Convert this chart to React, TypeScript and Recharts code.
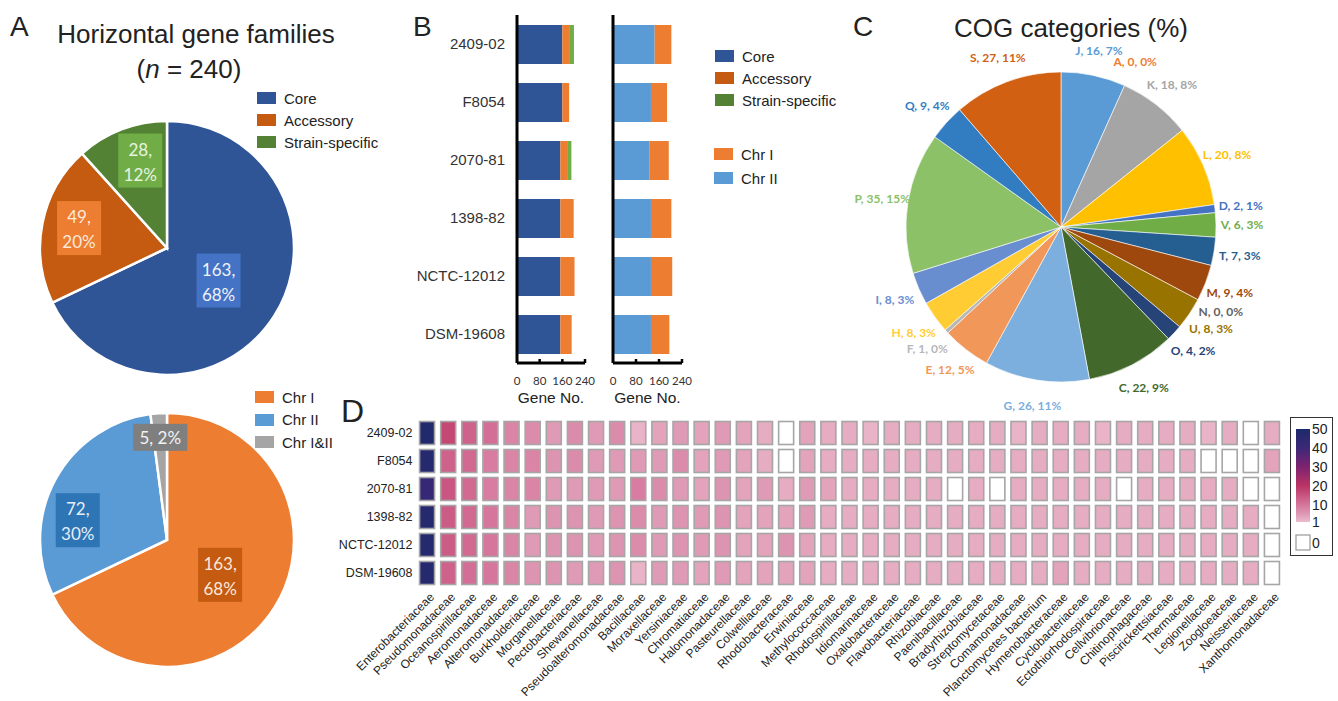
import React from 'react';
import { PieChart, Pie, Cell, BarChart, Bar, XAxis, YAxis, ScatterChart, Scatter } from 'recharts';

const RAD = Math.PI / 180;
const SANS = '"Liberation Sans", Arial, sans-serif';
const SOFT = 'Lato, "Open Sans", sans-serif';

// A - horizontal gene families
const familyTypes = ['Core', 'Accessory', 'Strain-specific'];
const familyCounts = [163, 49, 28];
const familyShares = ['68%', '20%', '12%'];
const chromosomes = ['Chr I', 'Chr II', 'Chr I&II'];
const chromosomeCounts = [163, 72, 5];
const chromosomeShares = ['68%', '30%', '2%'];

// B - gene counts per strain
const strains = ['2409-02', 'F8054', '2070-81', '1398-82', 'NCTC-12012', 'DSM-19608'];
const coreGenes = [160, 160, 153, 153, 153, 153];
const accessoryGenes = [24, 24, 24, 47, 50, 40];
const specificGenes = [17, 0, 15, 0, 0, 0];
const chrIIGenes = [145, 132, 126, 132, 132, 132];
const chrIGenes = [58, 56, 68, 71, 74, 64];
const geneTicks = [0, 80, 160, 240];

// C - COG categories
const cogLetters = ['J', 'A', 'K', 'L', 'D', 'V', 'T', 'M', 'N', 'U', 'O', 'C', 'G', 'E', 'F', 'H', 'I', 'P', 'Q', 'S'];
const cogCounts = [16, 0, 18, 20, 2, 6, 7, 9, 0, 8, 4, 22, 26, 12, 1, 8, 8, 35, 9, 27];
const cogShares = ['7%', '0%', '8%', '8%', '1%', '3%', '3%', '4%', '0%', '3%', '2%', '9%', '11%', '5%', '0%', '3%', '3%', '15%', '4%', '11%'];
const cogColors = ['#5b9bd5', '#ed7d31', '#a5a5a5', '#ffc000', '#4472c4', '#70ad47', '#255e91', '#9e480e', '#636363', '#997300',
  '#264478', '#43682b', '#7cafdd', '#f1975a', '#b7b7b7', '#ffcd33', '#698ed0', '#8cc168', '#327dc2', '#d26012'];

// D - best-hit families per strain
const families = ['Enterobacteriaceae', 'Pseudomonadaceae', 'Oceanospirillaceae', 'Aeromonadaceae', 'Alteromonadaceae',
  'Burkholderiaceae', 'Morganellaceae', 'Pectobacteriaceae', 'Shewanellaceae', 'Pseudoalteromonadaceae', 'Bacillaceae',
  'Moraxellaceae', 'Yersiniaceae', 'Chromatiaceae', 'Halomonadaceae', 'Pasteurellaceae', 'Colwelliaceae', 'Rhodobacteraceae',
  'Erwiniaceae', 'Methylococcaceae', 'Rhodospirillaceae', 'Idiomarinaceae', 'Oxalobacteraceae', 'Flavobacteriaceae',
  'Rhizobiaceae', 'Paenibacillaceae', 'Bradyrhizobiaceae', 'Streptomycetaceae', 'Comamonadaceae', 'Planctomycetes bacterium',
  'Hymenobacteraceae', 'Cyclobacteriaceae', 'Ectothiorhodospiraceae', 'Cellvibrionaceae', 'Chitinophagaceae',
  'Piscirickettsiaceae', 'Thermaceae', 'Legionellaceae', 'Zoogloeaceae', 'Neisseriaceae', 'Xanthomonadaceae'];
const hits2409 = [48, 17, 13, 11, 8, 7, 5, 7, 5, 7, 2, 4, 5, 4, 5, 4, 3, 0, 4, 3, 3, 2, 3, 3, 3, 3, 3, 3, 2, 3, 3, 3, 2, 3, 3, 3, 3, 2, 3, 0, 3];
const hitsF8054 = [47, 13, 12, 9, 8, 8, 6, 7, 5, 5, 5, 5, 7, 4, 5, 4, 3, 0, 4, 3, 3, 3, 3, 3, 3, 3, 3, 3, 3, 3, 3, 3, 3, 3, 3, 3, 3, 0, 0, 0, 4];
const hits2070 = [42, 15, 12, 9, 8, 8, 5, 5, 5, 5, 9, 7, 5, 4, 6, 4, 5, 3, 5, 4, 3, 3, 3, 3, 3, 0, 3, 0, 3, 3, 3, 3, 3, 0, 3, 3, 3, 3, 3, 0, 0];
const hits1398 = [47, 14, 12, 10, 8, 5, 6, 6, 5, 6, 7, 5, 6, 5, 6, 4, 4, 4, 5, 3, 3, 3, 3, 3, 3, 3, 3, 3, 3, 3, 3, 3, 3, 3, 3, 3, 3, 3, 3, 3, 0];
const hitsNCTC = [47, 14, 12, 10, 8, 5, 6, 6, 5, 6, 7, 5, 6, 5, 6, 4, 4, 6, 4, 3, 3, 3, 3, 3, 3, 3, 3, 3, 3, 3, 3, 3, 3, 3, 3, 3, 3, 3, 3, 3, 0];
const hitsDSM = [47, 13, 11, 10, 8, 6, 6, 5, 5, 6, 2, 5, 5, 4, 5, 4, 4, 4, 4, 3, 3, 3, 3, 3, 3, 3, 3, 3, 3, 3, 4, 3, 3, 3, 3, 3, 3, 3, 3, 3, 0];
const heatRows = [hits2409, hitsF8054, hits2070, hits1398, hitsNCTC, hitsDSM];
const heatTicks = [50, 40, 30, 20, 10, 1];

const heatStops: [number, number[]][] = [
  [1, [236, 188, 205]], [5, [223, 155, 181]], [10, [214, 118, 156]], [20, [187, 52, 99]],
  [30, [126, 35, 112]], [40, [61, 40, 120]], [50, [27, 42, 106]],
];

function heatColor(v: number) {
  for (let i = 1; i < heatStops.length; i++) {
    const [v1, c1] = heatStops[i];
    const [v0, c0] = heatStops[i - 1];
    if (v <= v1) {
      const t = Math.max(0, (v - v0) / (v1 - v0));
      const c = c0.map((ch, k) => Math.round(ch + (c1[k] - ch) * t));
      return `rgb(${c.join(',')})`;
    }
  }
  return 'rgb(27,42,106)';
}

const Txt = ({ x, y, size, w, align, weight, children }: any) => (
  <div style={{ position: 'absolute', left: x, top: y, width: w, textAlign: align || 'left', fontSize: size,
    fontWeight: weight || 400, lineHeight: 1, whiteSpace: 'nowrap' }}>{children}</div>
);

const SwatchList = ({ labels, colors, x, y, step }: any) => (
  <div style={{ position: 'absolute', left: x, top: y }}>
    {labels.map((l: string, i: number) => (
      <div key={l} style={{ position: 'absolute', left: 0, top: i * step, height: 14, display: 'flex', alignItems: 'center', whiteSpace: 'nowrap' }}>
        <span style={{ display: 'inline-block', width: 19, height: 12, background: colors[i], marginRight: 8 }} />
        <span style={{ fontSize: 15, lineHeight: 1, color: '#222' }}>{l}</span>
      </div>
    ))}
  </div>
);

// boxed "count, share" labels placed like Excel's best fit
function boxLabel(counts: number[], shares: string[], boxes: string[], inks: string[], spots: number[][]) {
  return (p: any) => {
    const { cx, cy, midAngle, outerRadius, index } = p;
    const [rf, shift] = spots[index];
    const a = (midAngle + shift) * RAD;
    const x = cx + outerRadius * rf * Math.cos(a);
    const y = cy - outerRadius * rf * Math.sin(a);
    const single = counts[index] < 10;
    const w = single ? 54 : 44;
    const h = single ? 27 : 54;
    return (
      <g key={`box-${index}`}>
        <rect x={x - w / 2} y={y - h / 2} width={w} height={h} fill={boxes[index]} />
        {single ? (
          <text x={x} y={y} textAnchor="middle" dominantBaseline="central" fontSize={17} fontFamily={SOFT} fill={inks[index]}>
            {`${counts[index]}, ${shares[index]}`}
          </text>
        ) : (
          <text textAnchor="middle" dominantBaseline="central" fontSize={17} fontFamily={SOFT} fill={inks[index]}>
            <tspan x={x} y={y - 12}>{`${counts[index]},`}</tspan>
            <tspan x={x} y={y + 13}>{shares[index]}</tspan>
          </text>
        )}
      </g>
    );
  };
}

function PanelA() {
  const famData = familyTypes.map((t, i) => ({ name: t, value: familyCounts[i] }));
  const chrData = chromosomes.map((t, i) => ({ name: t, value: chromosomeCounts[i] }));
  const famFill = ['#2f5597', '#c55a11', '#548235'];
  const chrFill = ['#ed7d31', '#5b9bd5', '#a5a5a5'];
  return (
    <>
      <Txt x={10} y={13} size={28}>A</Txt>
      <Txt x={46} y={21} w={300} align="center" size={26}>Horizontal gene families</Txt>
      <Txt x={46} y={56} w={286} align="center" size={26}>(<i>n</i> = 240)</Txt>
      <div style={{ position: 'absolute', left: 0, top: 0 }}>
        <PieChart width={300} height={380} margin={{ top: 0, right: 0, bottom: 0, left: 0 }}>
          <Pie data={famData} dataKey="value" cx={167} cy={248} outerRadius={127} startAngle={90} endAngle={-270}
            stroke="#fff" strokeWidth={2.5} labelLine={false} isAnimationActive={false}
            label={boxLabel(familyCounts, familyShares, ['#4472c4', '#ed7d31', '#70ad47'], ['#eef2fa', '#fbe9dc', '#e8f3e0'],
              [[0.48, 0], [0.71, -1.5], [0.72, -4]])}>
            {famData.map((d, i) => <Cell key={d.name} fill={famFill[i]} />)}
          </Pie>
        </PieChart>
      </div>
      <SwatchList labels={familyTypes} colors={famFill} x={257} y={91} step={22} />
      <div style={{ position: 'absolute', left: 0, top: 380 }}>
        <PieChart width={300} height={321} margin={{ top: 0, right: 0, bottom: 0, left: 0 }}>
          <Pie data={chrData} dataKey="value" cx={167} cy={160} outerRadius={127} startAngle={90} endAngle={-270}
            stroke="#fff" strokeWidth={2.5} labelLine={false} isAnimationActive={false}
            label={boxLabel(chromosomeCounts, chromosomeShares, ['#c55a11', '#2e75b6', '#7f7f7f'], ['#fbe9dc', '#e6eef8', '#f2f2f2'],
              [[0.5, -1], [0.72, 16], [0.81, 0]])}>
            {chrData.map((d, i) => <Cell key={d.name} fill={chrFill[i]} />)}
          </Pie>
        </PieChart>
      </div>
      <SwatchList labels={chromosomes} colors={chrFill} x={255} y={390} step={22.5} />
    </>
  );
}

const GeneTick = ({ x, y, payload }: any) => (
  <g>
    {payload.value > 0 && <line x1={x} x2={x} y1={y - 4} y2={y} stroke="#000" strokeWidth={2.5} />}
    <text x={x} y={y + 17} textAnchor="middle" dominantBaseline="central" fontSize={11.5} fontFamily={SOFT} fill="#333">
      {payload.value}
    </text>
  </g>
);

function PanelB() {
  const rows = strains.map((s, i) => ({
    strain: s, core: coreGenes[i], accessory: accessoryGenes[i], specific: specificGenes[i],
    chrII: chrIIGenes[i], chrI: chrIGenes[i],
  }));
  const axisLine = { stroke: '#000', strokeWidth: 3 };
  const geneLabel = { value: 'Gene No.', position: 'insideBottom' as const, offset: 17, fontSize: 15.5, fill: '#222', fontFamily: SANS };
  return (
    <>
      <Txt x={413} y={13} size={28}>B</Txt>
      <div style={{ position: 'absolute', left: 370, top: 0 }}>
        <BarChart width={225} height={420} data={rows} layout="vertical" margin={{ top: 15, right: 10, bottom: 0, left: 0 }}>
          <XAxis type="number" domain={[0, 240]} ticks={geneTicks} interval={0} height={57} axisLine={axisLine} tickLine={false}
            tickSize={0} tickMargin={0} tick={<GeneTick />} label={geneLabel} />
          <YAxis type="category" dataKey="strain" width={147} axisLine={axisLine} tickLine={false} tickSize={0} tickMargin={12}
            tick={{ fontSize: 15, fill: '#333', fontFamily: SANS }} />
          <Bar dataKey="core" stackId="a" fill="#2f5597" barSize={39} isAnimationActive={false} />
          <Bar dataKey="accessory" stackId="a" fill="#ed7d31" barSize={39} isAnimationActive={false} />
          <Bar dataKey="specific" stackId="a" fill="#70ad47" barSize={39} isAnimationActive={false} />
        </BarChart>
      </div>
      <div style={{ position: 'absolute', left: 600, top: 0 }}>
        <BarChart width={100} height={420} data={rows} layout="vertical" margin={{ top: 15, right: 18, bottom: 0, left: 0 }}>
          <XAxis type="number" domain={[0, 240]} ticks={geneTicks} interval={0} height={57} axisLine={axisLine} tickLine={false}
            tickSize={0} tickMargin={0} tick={<GeneTick />} label={geneLabel} />
          <YAxis type="category" dataKey="strain" width={13} axisLine={axisLine} tick={false} tickLine={false} />
          <Bar dataKey="chrII" stackId="b" fill="#5b9bd5" barSize={39} isAnimationActive={false} />
          <Bar dataKey="chrI" stackId="b" fill="#ed7d31" barSize={39} isAnimationActive={false} />
        </BarChart>
      </div>
      <SwatchList labels={familyTypes} colors={['#2f5597', '#c55a11', '#548235']} x={715} y={49} step={22} />
      <SwatchList labels={['Chr I', 'Chr II']} colors={['#ed7d31', '#5b9bd5']} x={714} y={147} step={24} />
    </>
  );
}

function PanelC() {
  const cogData = cogLetters.map((l, i) => ({ name: l, value: cogCounts[i] }));
  const cogLabel = (p: any) => {
    const { cx, cy, midAngle, outerRadius, index } = p;
    const r = outerRadius + 26;
    const x = cx + r * Math.cos(midAngle * RAD);
    const y = cy - r * Math.sin(midAngle * RAD);
    return (
      <text key={`cog-${index}`} x={x} y={y} textAnchor="middle" dominantBaseline="central" fontSize={12}
        fontWeight={700} fontFamily={SOFT} fill={cogColors[index]}>
        {`${cogLetters[index]}, ${cogCounts[index]}, ${cogShares[index]}`}
      </text>
    );
  };
  return (
    <>
      <Txt x={853} y={13} size={28}>C</Txt>
      <Txt x={921} y={15} w={300} align="center" size={26}>COG categories (%)</Txt>
      <div style={{ position: 'absolute', left: 840, top: 0 }}>
        <PieChart width={498} height={420} margin={{ top: 0, right: 0, bottom: 0, left: 0 }}>
          <Pie data={cogData} dataKey="value" cx={221} cy={227} outerRadius={155} startAngle={90} endAngle={-270}
            stroke="#fff" strokeWidth={0.6} labelLine={false} label={cogLabel} isAnimationActive={false}>
            {cogData.map((d, i) => <Cell key={d.name} fill={cogColors[i]} />)}
          </Pie>
        </PieChart>
      </div>
    </>
  );
}

const FamilyTick = ({ x, y, payload }: any) => (
  <text x={x + 5} y={y + 8} transform={`rotate(-45 ${x + 5} ${y + 8})`} textAnchor="end" dominantBaseline="central"
    fontSize={12} fontFamily={SANS} fill="#222">{payload.value}</text>
);

const StrainTick = ({ x, y, payload }: any) => (
  <text x={x - 4} y={y} textAnchor="end" dominantBaseline="central" fontSize={12.5} fontFamily={SANS} fill="#222">
    {payload.value}
  </text>
);

const HeatCell = (p: any) => {
  const { cx, cy, payload } = p;
  const v = payload.hits;
  return (
    <rect x={cx - 7.5} y={cy - 11.5} width={15} height={23} fill={v > 0 ? heatColor(v) : '#fff'}
      stroke="#a6a6a6" strokeWidth={1.6} />
  );
};

function HeatKey() {
  const top = 12;
  const bottom = 105;
  const yOf = (v: number) => bottom - ((v - 1) / 49) * (bottom - top);
  return (
    <svg width={44} height={140} style={{ position: 'absolute', left: 1290, top: 417 }}>
      <defs>
        <linearGradient id="heatGrad" x1="0" y1="1" x2="0" y2="0">
          {heatStops.map(([v, c]) => (
            <stop key={v} offset={`${((v - 1) / 49) * 100}%`} stopColor={`rgb(${c.join(',')})`} />
          ))}
        </linearGradient>
      </defs>
      <rect x={0.5} y={0.5} width={42} height={138} fill="#fff" stroke="#333" strokeWidth={1} />
      <rect x={6} y={top} width={14} height={bottom - top} fill="url(#heatGrad)" />
      {heatTicks.map(t => (
        <text key={t} x={22} y={yOf(t)} dominantBaseline="central" fontSize={14} fontFamily={SANS} fill="#222">{t}</text>
      ))}
      <rect x={6} y={118} width={14} height={15} fill="#fff" stroke="#999" strokeWidth={1.2} />
      <text x={22} y={126} dominantBaseline="central" fontSize={14} fontFamily={SANS} fill="#222">0</text>
    </svg>
  );
}

function PanelD() {
  const cells = heatRows.flatMap((row, r) => row.map((hits, c) => ({ family: families[c], strain: strains[r], hits })));
  return (
    <>
      <Txt x={341} y={395} size={32}>D</Txt>
      <div style={{ position: 'absolute', left: 300, top: 380 }}>
        <ScatterChart width={1038} height={321} margin={{ top: 39, right: 55.5, bottom: 0, left: 0 }}>
          <XAxis type="category" dataKey="family" allowDuplicatedCategory={false} interval={0} height={114}
            axisLine={false} tickLine={false} tickSize={0} tickMargin={0} tick={<FamilyTick />} />
          <YAxis type="category" dataKey="strain" allowDuplicatedCategory={false} reversed width={116.5}
            axisLine={false} tickLine={false} tickSize={0} tickMargin={0} tick={<StrainTick />} />
          <Scatter data={cells} shape={<HeatCell />} isAnimationActive={false} />
        </ScatterChart>
      </div>
      <HeatKey />
    </>
  );
}

export default function App() {
  return (
    <div style={{ position: 'absolute', left: 0, top: 0, width: 1338, height: 701, background: '#fff', overflow: 'hidden',
      fontFamily: SANS, color: '#222' }}>
      <PanelA />
      <PanelB />
      <PanelC />
      <PanelD />
    </div>
  );
}
